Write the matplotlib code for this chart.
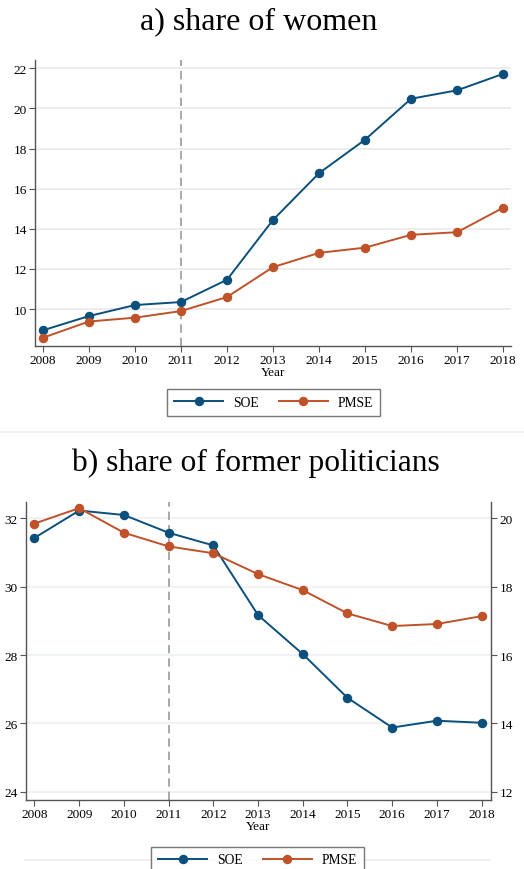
import matplotlib
matplotlib.use("Agg")
import matplotlib.pyplot as plt
from matplotlib.lines import Line2D

plt.rcParams['font.family'] = ['Liberation Serif', 'DejaVu Serif']

years = [2008, 2009, 2010, 2011, 2012, 2013, 2014, 2015, 2016, 2017, 2018]
women_soe = [8.94, 9.65, 10.2, 10.35, 11.46, 14.44, 16.77, 18.44, 20.48, 20.9, 21.72]
women_pmse = [8.57, 9.38, 9.57, 9.9, 10.6, 12.09, 12.8, 13.06, 13.7, 13.83, 15.05]
pol_soe = [31.43, 32.23, 32.1, 31.58, 31.21, 29.17, 28.03, 26.75, 25.88, 26.08, 26.02]
pol_pmse = [19.85, 20.3, 19.58, 19.18, 18.98, 18.37, 17.9, 17.22, 16.85, 16.91, 17.14]
yticks_a = [10, 12, 14, 16, 18, 20, 22]
yticks_b_left = [24, 26, 28, 30, 32]
yticks_b_right = [12, 14, 16, 18, 20]
series_names = ["SOE", "PMSE"]
titles = ["a) share of women", "b) share of former politicians"]
reform_year = 2011

BLUE = "#0b4f7c"
ORANGE = "#c0522a"
SPINE = "#555555"
W, H = 524, 870

fig = plt.figure(figsize=(W / 100, H / 100), dpi=100)


def ax_rect(l, r, t, b):
    return [l / W, 1 - b / H, (r - l) / W, (b - t) / H]


def style(ax, grid_color):
    for s in ["top", "right"]:
        ax.spines[s].set_visible(False)
    for s in ["left", "bottom"]:
        ax.spines[s].set_color(SPINE)
        ax.spines[s].set_linewidth(1.0)
    ax.tick_params(axis="both", colors=SPINE, labelcolor="black", labelsize=9.5,
                   length=4, width=0.8, pad=2)
    ax.set_xticks(years)
    ax.set_xticklabels([str(y) for y in years])
    ax.grid(axis="y", color=grid_color, linewidth=1.3)
    ax.set_axisbelow(True)
    ax.axvline(reform_year, color="#9a9a9a", linestyle=(0, (5, 3)), linewidth=1.2, zorder=1)
    ax.set_xlabel("Year", fontsize=9.5, labelpad=0)


mk = dict(marker="o", markersize=5.8, linewidth=1.4)

# Panel a
axa = fig.add_axes(ax_rect(35, 511, 61, 347))
style(axa, "#ececec")
axa.plot(years, women_soe, color=BLUE, zorder=3, **mk)
axa.plot(years, women_pmse, color=ORANGE, zorder=3, **mk)
axa.set_xlim(2007.83, 2018.17)
axa.set_ylim(8.16, 22.41)
axa.set_yticks(yticks_a)
fig.text(259 / W, 1 - 22 / H, titles[0], ha="center", va="center", fontsize=23)

handles = [Line2D([], [], color=BLUE, **mk), Line2D([], [], color=ORANGE, **mk)]
leg_kw = dict(ncol=2, loc="center", fontsize=9.8, frameon=True, fancybox=False,
              edgecolor=SPINE, handlelength=3.6, columnspacing=1.5, borderpad=0.5,
              handletextpad=0.7, borderaxespad=0)
la = fig.legend(handles, series_names, bbox_to_anchor=(273.5 / W, 1 - 403.5 / H), **leg_kw)
la.get_frame().set_linewidth(1.0)

# separators
fig.add_artist(Line2D([0 / W, 524 / W], [1 - 433 / H] * 2, color="#eeeeee", linewidth=1.2))
fig.add_artist(Line2D([25 / W, 490 / W], [1 - 861 / H] * 2, color="#eeeeee", linewidth=1.2))

# Panel b
axb = fig.add_axes(ax_rect(26, 491, 503, 801))
style(axb, "#eef2f2")
axb.plot(years, pol_soe, color=BLUE, zorder=3, **mk)
axb.set_xlim(2007.81, 2018.21)
axb.set_ylim(23.76, 32.48)
axb.set_yticks(yticks_b_left)
axr = axb.twinx()
axr.plot(years, pol_pmse, color=ORANGE, zorder=3, **mk)
axr.set_ylim(11.76, 20.48)
axr.set_yticks(yticks_b_right)
for s in ["top", "left", "bottom"]:
    axr.spines[s].set_visible(False)
axr.spines["right"].set_color(SPINE)
axr.spines["right"].set_linewidth(1.0)
axr.tick_params(axis="y", colors=SPINE, labelcolor="black", labelsize=9.5, length=4, width=0.8, pad=2)
fig.text(256 / W, 1 - 463 / H, titles[1], ha="center", va="center", fontsize=22.7)

lb = fig.legend(handles, series_names, bbox_to_anchor=(257.5 / W, 1 - 861 / H), **leg_kw)
lb.get_frame().set_linewidth(1.0)

fig.savefig("out.png", dpi=100, facecolor="white")
